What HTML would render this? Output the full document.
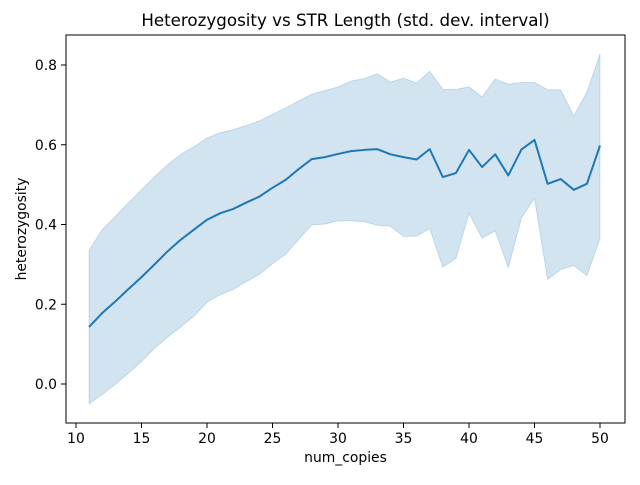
<!DOCTYPE html>
<html><head><meta charset="utf-8"><style>
body{margin:0;background:#fff}
svg text{font-family:"DejaVu Sans","Liberation Sans",sans-serif;fill:#000}
</style></head><body>
<svg id="chart" width="640" height="480" viewBox="0 0 640 480" xmlns="http://www.w3.org/2000/svg">
<text x="345.5" y="26" font-size="16.7" text-anchor="middle">Heterozygosity vs STR Length (std. dev. interval)</text>
<g id="plot"></g>
<rect x="66" y="35" width="559" height="388" fill="none" stroke="#000" stroke-width="1"/>
<text x="345.5" y="462" font-size="13.9" text-anchor="middle">num_copies</text>
<text transform="translate(26,229) rotate(-90)" font-size="13.9" text-anchor="middle">heterozygosity</text>
</svg>
<script>
const xs=[11,12,13,14,15,16,17,18,19,20,21,22,23,24,25,26,27,28,29,30,31,32,33,34,35,36,37,38,39,40,41,42,43,44,45,46,47,48,49,50];
const meanVals=[0.143,0.178,0.207,0.238,0.268,0.30,0.333,0.362,0.387,0.412,0.428,0.439,0.455,0.470,0.492,0.512,0.539,0.564,0.569,0.577,0.584,0.587,0.589,0.576,0.569,0.563,0.589,0.519,0.529,0.587,0.544,0.576,0.523,0.588,0.612,0.502,0.514,0.487,0.502,0.598];
const upperVals=[0.335,0.387,0.42,0.455,0.487,0.52,0.55,0.576,0.595,0.617,0.63,0.638,0.648,0.66,0.676,0.692,0.71,0.727,0.736,0.745,0.76,0.766,0.778,0.757,0.767,0.755,0.784,0.739,0.739,0.745,0.72,0.765,0.752,0.756,0.756,0.738,0.738,0.672,0.732,0.828];
const lowerVals=[-0.05,-0.026,-0.001,0.027,0.056,0.09,0.118,0.143,0.17,0.205,0.224,0.237,0.257,0.275,0.302,0.325,0.363,0.399,0.401,0.409,0.409,0.407,0.398,0.396,0.37,0.371,0.39,0.293,0.315,0.428,0.366,0.384,0.292,0.416,0.466,0.262,0.287,0.297,0.272,0.365];
const xTicks=[10,15,20,25,30,35,40,45,50];
const yTicks=[0.0,0.2,0.4,0.6,0.8];
const sx=v=>76+(v-10)*13.1;
const sy=v=>384-v*398.75;
const NS="http://www.w3.org/2000/svg";
const g=document.getElementById('plot');
function mk(t,a){const e=document.createElementNS(NS,t);for(const k in a)e.setAttribute(k,a[k]);g.appendChild(e);return e;}
let d=xs.map((x,i)=>(i?'L':'M')+sx(x)+','+sy(upperVals[i])).join('');
for(let i=xs.length-1;i>=0;i--)d+='L'+sx(xs[i])+','+sy(lowerVals[i]);
const band=mk('path',{d:d+'Z',fill:'#1f77b4','fill-opacity':0.2,stroke:'#1f77b4','stroke-opacity':0.2,'stroke-width':1});


const line=mk('path',{d:xs.map((x,i)=>(i?'L':'M')+sx(x)+','+sy(meanVals[i])).join(''),fill:'none',stroke:'#1f77b4','stroke-width':2,'stroke-linejoin':'round'});


xTicks.forEach(t=>{
 const l=mk('line',{x1:sx(t),x2:sx(t),y1:423,y2:428,stroke:'#000','stroke-width':1});
 
 
 const tx=mk('text',{x:sx(t),y:443,'font-size':13.9,'text-anchor':'middle'});tx.textContent=t;
 
 
});
yTicks.forEach(t=>{
 const l=mk('line',{x1:61,x2:66,y1:sy(t),y2:sy(t),stroke:'#000','stroke-width':1});
 
 
 const tx=mk('text',{x:57,y:sy(t)+5,'font-size':13.9,'text-anchor':'end'});tx.textContent=t.toFixed(1);
 
 
});
</script>
</body></html>
